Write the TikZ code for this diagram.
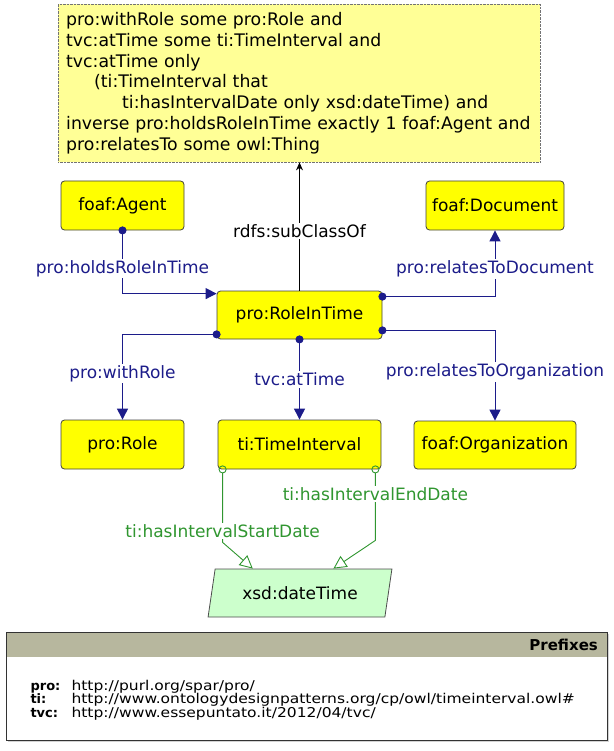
\documentclass[tikz,border=0pt]{standalone}
\usepackage{fontspec}
\setmainfont{DejaVu Sans}
\newfontfamily\prefixfont[FakeStretch=1.15]{DejaVu Sans}
\usetikzlibrary{arrows.meta}
\usetikzlibrary{calc}
\usetikzlibrary{shapes.geometric}
\usetikzlibrary{shadows}

\definecolor{clsyellow}{RGB}{255,255,0}
\definecolor{axiomyellow}{RGB}{255,255,150}
\definecolor{dtgreen}{RGB}{204,255,204}
\definecolor{objblue}{RGB}{28,28,138}
\definecolor{datagreen}{RGB}{48,150,48}
\definecolor{headgray}{RGB}{183,183,158}

\tikzset{
  cls/.style={rectangle, rounded corners=3.5pt, draw=black!75, fill=clsyellow, line width=0.8pt,
    minimum height=49pt, inner sep=0pt, font=\fontsize{17}{20}\selectfont},
  axiom/.style={rectangle, draw=black!55, densely dotted, fill=axiomyellow, text width=466pt,
    inner xsep=8pt, minimum height=158pt, align=left, font=\fontsize{17.3}{20.8}\selectfont},
  datatype/.style={trapezium, trapezium left angle=70, trapezium right angle=110, trapezium stretches=true,
    draw=black!70, line width=0.8pt, fill=dtgreen, minimum width=184pt, minimum height=48pt,
    inner sep=0pt, font=\fontsize{17}{20}\selectfont},
  subclass/.style={black, line width=0.9pt, -{Stealth[length=8pt, width=7pt]}},
  objprop/.style={objblue, line width=1pt, {Circle[length=8pt]}-{Triangle[length=11pt, width=11pt]},
    shorten <=-4pt},
  dataprop/.style={datagreen, line width=0.9pt, {Circle[open, length=8pt]}-{Triangle[open, length=13pt, width=13pt]},
    shorten <=-4pt},
  proplabel/.style={fill=white, inner sep=1.5pt, font=\fontsize{17}{20}\selectfont},
}

\begin{document}
\begin{tikzpicture}[x=1pt, y=-1pt]
    \useasboundingbox (0,0) rectangle (613,751);

    \node[axiom, anchor=north west] (axiom) at (58,4) {pro:withRole some pro:Role and\\
      tvc:atTime some ti:TimeInterval and\\
      tvc:atTime only\\
      \hspace*{28pt}(ti:TimeInterval that\\
      \hspace*{56pt}ti:hasIntervalDate only xsd:dateTime) and\\
      inverse pro:holdsRoleInTime exactly 1 foaf:Agent and\\
      pro:relatesTo some owl:Thing};

    \node[cls, minimum width=123pt] (agent) at (122.5,205.5) {foaf:Agent};
    \node[cls, minimum width=138pt] (document) at (495,205.5) {foaf:Document};
    \node[cls, minimum width=165pt, minimum height=48pt] (roleintime) at (299.5,315) {pro:RoleInTime};
    \node[cls, minimum width=123pt] (role) at (122.5,444.5) {pro:Role};
    \node[cls, minimum width=163pt] (timeinterval) at (299.5,444.5) {ti:TimeInterval};
    \node[cls, minimum width=162pt, minimum height=48pt] (organization) at (495,445) {foaf:Organization};
    \node[datatype] (datetime) at (300,593) {xsd:dateTime};

    \draw[subclass] (roleintime.north) -- node[proplabel, pos=.465] {rdfs:subClassOf} (roleintime.north |- axiom.south);

    \draw[objprop] (agent.south) |- node[proplabel, text=objblue, pos=.3] {pro:holdsRoleInTime} ($(roleintime.north west)+(0,3)$);
    \draw[objprop] ($(roleintime.north east)+(0,6)$) -| node[proplabel, text=objblue, pos=.71] {pro:relatesToDocument} (document.south);
    \draw[objprop] ($(roleintime.south east)+(0,-9)$) -| node[proplabel, text=objblue, pos=.73] {pro:relatesToOrganization} (organization.north);
    \draw[objprop] ($(roleintime.south west)+(0,-5)$) -| node[proplabel, text=objblue, pos=.73] {pro:withRole} (role.north);
    \draw[objprop] (roleintime.south) -- node[proplabel, text=objblue, pos=.5] {tvc:atTime} (timeinterval.north);

    \draw[dataprop] ($(timeinterval.south west)+(5,0)$) -- ++(0,73) node[proplabel, text=datagreen, pos=.84] {ti:hasIntervalStartDate}
      -- ($(datetime.top left corner)+(38,0)$);
    \draw[dataprop] ($(timeinterval.south east)+(-6,0)$) -- ++(0,71) node[proplabel, text=datagreen, pos=.35] {ti:hasIntervalEndDate}
      -- ($(datetime.top right corner)+(-59,0)$);

    % prefixes
    \node[rectangle, draw=black!80, fill=white, minimum width=601pt, minimum height=108pt, inner sep=0pt, anchor=north west,
      drop shadow={shadow xshift=1.5pt, shadow yshift=-1.5pt, opacity=.35}] (prefixes) at (6,632) {};
    \node[rectangle, fill=headgray, minimum width=601pt, minimum height=25pt, inner sep=0pt, anchor=north west] (prefixhead) at (prefixes.north west) {};
    \draw[black!80] (prefixes.north west) rectangle (prefixes.south east);
    \node[anchor=east, font=\bfseries\fontsize{15}{17}\selectfont] (prefixtitle) at ($(prefixhead.east)+(-6,0)$) {Prefixes};

    \node[anchor=base west, font=\bfseries\fontsize{13}{14}\selectfont] (pfxpro) at (27,690) {pro:};
    \node[anchor=base west, font=\bfseries\fontsize{13}{14}\selectfont] (pfxti) at (27,703.5) {ti:};
    \node[anchor=base west, font=\bfseries\fontsize{13}{14}\selectfont] (pfxtvc) at (27,717) {tvc:};
    \node[anchor=base west, font=\prefixfont\fontsize{13.5}{14}\selectfont] (urlpro) at (68,690) {http://purl.org/spar/pro/};
    \node[anchor=base west, font=\prefixfont\fontsize{13.5}{14}\selectfont] (urlti) at (68,703.5) {http://www.ontologydesignpatterns.org/cp/owl/timeinterval.owl\#};
    \node[anchor=base west, font=\prefixfont\fontsize{13.5}{14}\selectfont] (urltvc) at (68,717) {http://www.essepuntato.it/2012/04/tvc/};
\end{tikzpicture}
\end{document}
